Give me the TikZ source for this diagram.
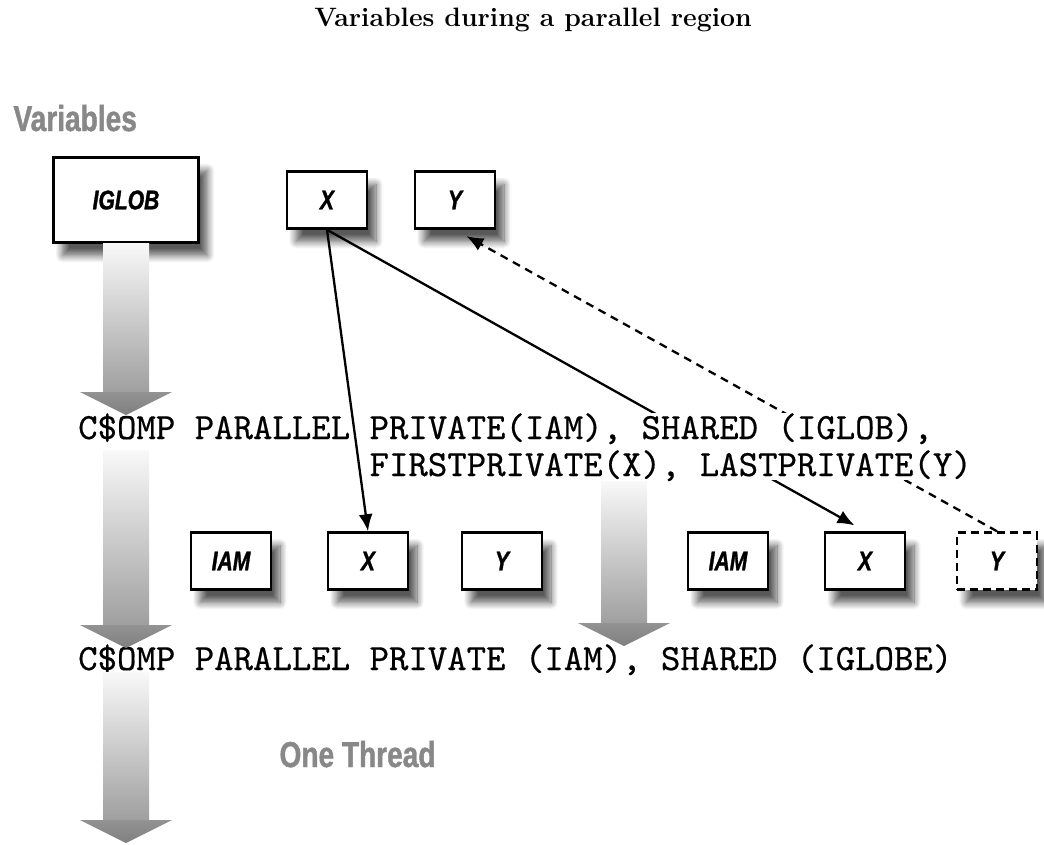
\documentclass[tikz,border=0pt]{standalone}
\usepackage{fontspec}
\newfontfamily\condfont[FakeStretch=0.78, FakeBold=1.2]{Liberation Sans}
\newfontfamily\codefont[FakeBold=0.5]{lmmono10-regular.otf}
\usetikzlibrary{arrows.meta, shadows.blur, positioning}

\definecolor{headgray}{RGB}{136,136,136}

\tikzset{
  varbox/.style={draw, line width=2.5pt, fill=white, inner sep=0pt,
    minimum width=80pt, minimum height=57pt,
    font=\condfont\bfseries\itshape\fontsize{27}{27}\selectfont,
    blur shadow={shadow xshift=9pt, shadow yshift=-13pt,
      shadow blur radius=7pt, shadow blur steps=10, shadow opacity=65}},
  codeline/.style={inner sep=0pt, fill=white, anchor=base west,
    text height=26pt, text depth=11pt,
    font=\codefont\fontsize{37}{37}\selectfont},
  heading/.style={anchor=base west, text=headgray,
    font=\condfont\bfseries\fontsize{36}{36}\selectfont},
  conn/.style={line width=2.3pt, -{Latex[length=17pt,width=14pt]}}
}

% dicker grauer Pfeil: x, Oberkante Schaft, Ansatz der Spitze
\newcommand{\fatarrow}[3]{%
  \shade[top color=gray!5, bottom color=gray!75]
    ({#1-23},#2) rectangle ({#1+23},#3);
  \shade[top color=gray!85, bottom color=gray!100]
    ({#1-46},#3) -- ({#1+46},#3) -- (#1,{#3+23}) -- cycle;
}

\begin{document}
\begin{tikzpicture}[x=1pt, y=-1pt, >=latex]
    \useasboundingbox (0,0) rectangle (1044,844);

    % Titel
    \node[anchor=base, font=\bfseries\fontsize{26.6}{30}\selectfont] (title)
        at (533,26) {Variables during a parallel region};
    \node[heading] (varhead) at (10,131) {Variables};

    % gemeinsame Variablen
    \node[varbox, minimum width=145pt, minimum height=85pt] (iglob) at (126,200) {IGLOB};
    \node[varbox] (xtop) at (327,200) {X};
    \node[varbox] (ytop) at (455,200) {Y};

    % private Kopien der Threads
    \node[varbox] (iam1) at (231,561) {IAM};
    \node[varbox] (x1)   at (368,561) {X};
    \node[varbox] (y1)   at (502,561) {Y};
    \node[varbox] (iam2) at (728,561) {IAM};
    \node[varbox] (x2)   at (865,561) {X};
    \node[varbox, dashed, dash pattern=on 8pt off 5pt] (y2) at (997,561) {Y};

    % Verbindungen hinter dem Text
    \draw[conn, shorten >=12pt] (xtop.south) -- (x2.north);
    \draw[conn, dash pattern=on 8pt off 6pt, shorten >=13pt] (y2.north) -- (ytop.south);

    % Direktiven
    \node[codeline] (cmd1)  at (78,439)  {C\$OMP PARALLEL PRIVATE(IAM), SHARED (IGLOB),};
    \node[codeline, text depth=4pt] (cmd1b) at (369.4,476) {FIRSTPRIVATE(X), LASTPRIVATE(Y)};
    \node[codeline] (cmd2)  at (78,670)  {C\$OMP PARALLEL PRIVATE (IAM), SHARED (IGLOBE)};
    \node[heading] (onethread) at (276,767) {One Thread};

    \draw[conn] (xtop.south) -- (x1.north);

    % Zeitachse
    \fatarrow{126}{243}{392}
    \fatarrow{126}{450}{625}
    \fatarrow{126}{672}{820}
    \fatarrow{624}{481}{623}
\end{tikzpicture}
\end{document}
